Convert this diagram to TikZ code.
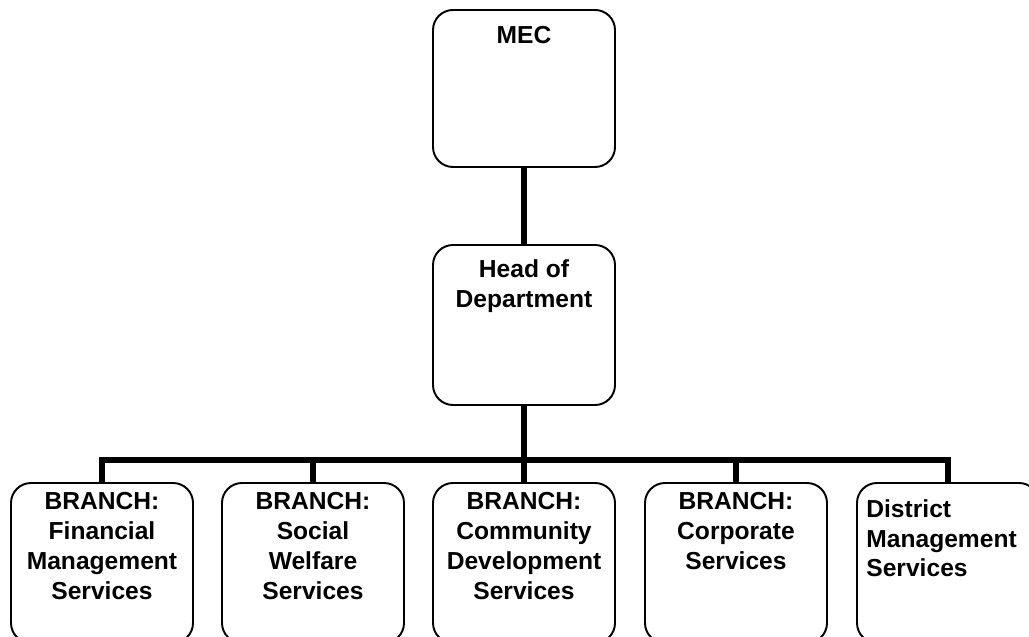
\documentclass[tikz,border=0pt]{standalone}
\usepackage{fontspec}
\setmainfont{Liberation Sans}
\tikzset{
  unit/.style={draw, rounded corners=0.4cm, line width=1.1pt, minimum width=3.64cm, minimum height=3.2cm, inner sep=0pt},
  unittext/.style={font=\fontsize{14}{17}\selectfont\bfseries, align=center, inner sep=0pt},
  link/.style={line width=3.4pt}
}
\begin{document}
\begin{tikzpicture}
\useasboundingbox (0,0) rectangle (20.58,-12.74);
\node[unit, minimum height=3.14cm, label={[unittext, anchor=north, yshift=-0.34cm]north:MEC}] (mec) at (10.48,-1.77) {};
\node[unit, label={[unittext, anchor=north, yshift=-0.3cm]north:{Head of\\Department}}] (head) at (10.48,-6.5) {};
\node[unit, label={[unittext, anchor=north, yshift=-0.2cm]north:{BRANCH:\\Financial\\Management\\Services}}] (fin) at (2.04,-11.26) {};
\node[unit, label={[unittext, anchor=north, yshift=-0.2cm]north:{BRANCH:\\Social\\Welfare\\Services}}] (soc) at (6.26,-11.26) {};
\node[unit, label={[unittext, anchor=north, yshift=-0.2cm]north:{BRANCH:\\Community\\Development\\Services}}] (com) at (10.48,-11.26) {};
\node[unit, label={[unittext, anchor=north, yshift=-0.2cm]north:{BRANCH:\\Corporate\\Services}}] (cor) at (14.72,-11.26) {};
\node[unit, label={[unittext, align=left, anchor=north west, xshift=0.2cm, yshift=-0.34cm]north west:{District\\Management\\Services}}] (dis) at (18.96,-11.26) {};
\coordinate (bus) at (10.48,-9.2);
\path[draw,link] (mec) -- (head);
\path[draw,link] (head) -- (bus);
\path[draw,link] (bus) -| (fin);
\path[draw,link] (bus) -| (soc);
\path[draw,link] (bus) -- (com);
\path[draw,link] (bus) -| (cor);
\path[draw,link] (bus) -| (dis);
\end{tikzpicture}
\end{document}
